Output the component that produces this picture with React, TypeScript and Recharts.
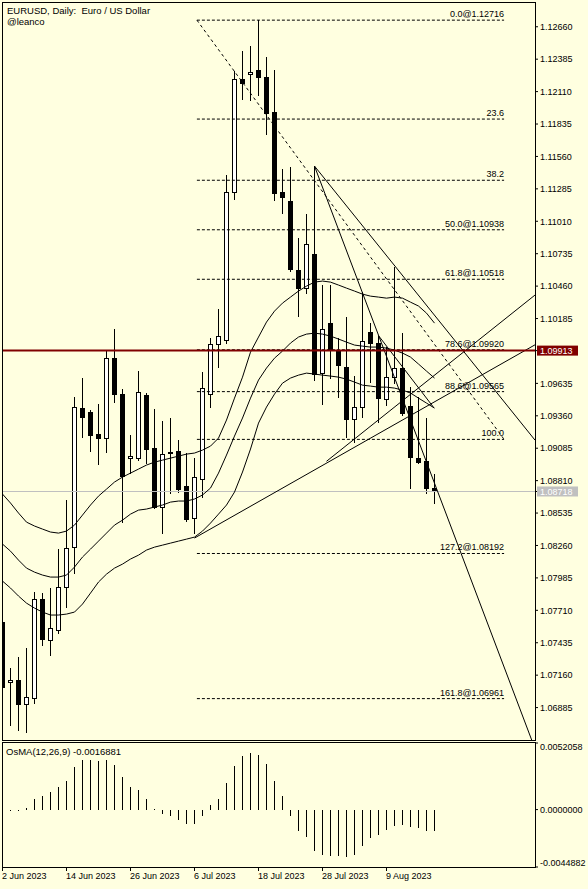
import React from "react";
import { ComposedChart, Bar, Line, XAxis, YAxis, ReferenceLine } from "recharts";

const FONT = "'Liberation Sans', Arial, sans-serif";
const BG = "#FFFFE0";

// daily candles, 2 Jun 2023 .. 17 Aug 2023
const opens = [
  1.0761, 1.07105, 1.07118, 1.06915, 1.06966, 1.07805, 1.07458, 1.07542, 1.07907, 1.08246,
  1.09425, 1.09391, 1.09205, 1.09171, 1.09849, 1.09544, 1.09001, 1.09001, 1.09536, 1.09086,
  1.08586, 1.09045, 1.09061, 1.08764, 1.08492, 1.08823, 1.09544, 1.09968, 1.10002, 1.11257,
  1.12216, 1.12258, 1.12292, 1.12233, 1.11936, 1.11257, 1.11181, 1.10596, 1.10443, 1.10732,
  1.09722, 1.10146, 1.09918, 1.09773, 1.09332, 1.09434, 1.1007, 1.09977, 1.09502, 1.09688,
  1.09765, 1.09442, 1.09001, 1.08976, 1.08747,
];
const highs = [
  1.0767, 1.0722, 1.07313, 1.0739, 1.07865, 1.07856, 1.07899, 1.08229, 1.08645, 1.09519,
  1.0968, 1.09408, 1.09459, 1.09909, 1.10095, 1.09587, 1.09196, 1.09739, 1.09553, 1.09417,
  1.09315, 1.0934, 1.09154, 1.09044, 1.09001, 1.09731, 1.10019, 1.10265, 1.11402, 1.12284,
  1.12453, 1.12496, 1.12716, 1.12403, 1.12292, 1.11453, 1.1147, 1.10867, 1.11071, 1.11478,
  1.10469, 1.10469, 1.10019, 1.10197, 1.097, 1.10412, 1.10146, 1.10036, 1.09943, 1.10621,
  1.10062, 1.09604, 1.09519, 1.09341, 1.08866,
];
const lows = [
  1.06949, 1.06737, 1.06694, 1.06677, 1.06923, 1.07415, 1.0733, 1.07517, 1.07737, 1.08026,
  1.09179, 1.09061, 1.0895, 1.09052, 1.09476, 1.08458, 1.08874, 1.08984, 1.08959, 1.08577,
  1.08365, 1.08704, 1.08713, 1.0847, 1.08365, 1.0867, 1.09434, 1.09773, 1.09977, 1.11198,
  1.12046, 1.12038, 1.1208, 1.11749, 1.1119, 1.11079, 1.1059, 1.10206, 1.10401, 1.09663,
  1.09459, 1.0968, 1.09519, 1.09179, 1.09137, 1.09349, 1.09646, 1.09307, 1.09451, 1.09637,
  1.0937, 1.08747, 1.0896, 1.08704, 1.0862,
];
const closes = [
  1.07059, 1.07115, 1.06915, 1.06974, 1.07805, 1.07466, 1.07559, 1.07907, 1.08238, 1.09434,
  1.09349, 1.09196, 1.09171, 1.09849, 1.09544, 1.08849, 1.09018, 1.09561, 1.09078, 1.08586,
  1.09035, 1.09056, 1.08738, 1.08484, 1.0884, 1.09595, 1.09968, 1.10036, 1.11257, 1.12216,
  1.12182, 1.12275, 1.12233, 1.11928, 1.11249, 1.11215, 1.10604, 1.10443, 1.10816, 1.09714,
  1.10095, 1.09926, 1.0979, 1.09332, 1.09434, 1.09994, 1.09977, 1.0951, 1.09688, 1.09765,
  1.09383, 1.0901, 1.08967, 1.08747, 1.08718,
];

// bollinger bands as drawn
const bbUpper = [
  1.08696, 1.0862, 1.08535, 1.08458, 1.08425, 1.08399, 1.08374, 1.08365, 1.08382, 1.08433,
  1.08518, 1.08603, 1.08679, 1.08738, 1.08798, 1.0884, 1.08874, 1.08908, 1.08942, 1.08967,
  1.08984, 1.09001, 1.09018, 1.09035, 1.09044, 1.09069, 1.09103, 1.09171, 1.09324, 1.0951,
  1.09688, 1.099, 1.10028, 1.10155, 1.10248, 1.10316, 1.10367, 1.10418, 1.1046, 1.10494,
  1.10503, 1.10494, 1.10469, 1.10443, 1.10418, 1.10392, 1.10375, 1.10367, 1.10358, 1.10367,
  1.10358, 1.10324, 1.10291, 1.10231, 1.10146,
];
const bbMiddle = [
  1.08272, 1.08212, 1.08136, 1.08068, 1.08034, 1.08009, 1.07992, 1.07992, 1.08009, 1.08077,
  1.08162, 1.08229, 1.08297, 1.08365, 1.08433, 1.08475, 1.08526, 1.0856, 1.08569, 1.08586,
  1.08603, 1.08628, 1.08637, 1.08637, 1.08654, 1.08688, 1.08747, 1.08874, 1.09027, 1.09188,
  1.09341, 1.0951, 1.09663, 1.09765, 1.09849, 1.09909, 1.09977, 1.10028, 1.10053, 1.10061,
  1.10053, 1.10036, 1.10011, 1.09985, 1.0996, 1.09951, 1.09943, 1.09943, 1.09934, 1.09917,
  1.09892, 1.09858, 1.09799, 1.09739, 1.0968,
];
const bbLower = [
  1.07958, 1.07899, 1.07831, 1.07771, 1.07729, 1.07695, 1.0767, 1.0767, 1.07678, 1.07695,
  1.07763, 1.07856, 1.0795, 1.08017, 1.08068, 1.08102, 1.08145, 1.08178, 1.08221, 1.08246,
  1.08263, 1.0828, 1.08297, 1.08314, 1.08331, 1.08382, 1.0845, 1.08526, 1.08603, 1.08713,
  1.08883, 1.09078, 1.09298, 1.09434, 1.09544, 1.09637, 1.0968, 1.09705, 1.09722, 1.09714,
  1.09705, 1.09697, 1.09688, 1.09671, 1.09646, 1.0962, 1.09612, 1.09603, 1.09603, 1.09595,
  1.09578, 1.09553, 1.0951, 1.09468, 1.09425,
];

const osma = [
  0, -0.00006, -0.00004, 0.00012, 0.00086, 0.00109, 0.00136, 0.00175, 0.00222, 0.00331,
  0.00391, 0.00391, 0.00378, 0.00391, 0.00352, 0.00253, 0.00175, 0.00151, 0.00086, 0.00002,
  -0.00031, -0.00047, -0.00078, -0.00109, -0.00109, -0.00047, 0.00034, 0.00086, 0.00208, 0.00344,
  0.00417, 0.00443, 0.0043, 0.00357, 0.00227, 0.00104, -0.00052, -0.00166, -0.00216, -0.00321,
  -0.00354, -0.0036, -0.0036, -0.00367, -0.00354, -0.00281, -0.00219, -0.00195, -0.00156, -0.00125,
  -0.0012, -0.00138, -0.00146, -0.00164, -0.0016881,
];

const dateTickIdx = [0, 8, 16, 24, 32, 40, 48];
const dateTickLabels = ["2 Jun 2023", "14 Jun 2023", "26 Jun 2023", "6 Jul 2023", "18 Jul 2023", "28 Jul 2023", "9 Aug 2023"];

const priceTicks = [
  1.06885, 1.0716, 1.07435, 1.0771, 1.07985, 1.0826, 1.08535, 1.0881, 1.09085, 1.0936,
  1.09635, 1.10185, 1.1046, 1.10735, 1.1101, 1.11285, 1.1156, 1.11835, 1.1211, 1.12385, 1.1266,
];
const resistance = 1.09913;
const lastPrice = 1.08718;

const fibPrices = [1.12716, 1.11877, 1.11358, 1.10938, 1.10518, 1.0992, 1.09565, 1.0916, 1.08192, 1.06961];
const fibLabels = ["0.0@1.12716", "23.6", "38.2", "50.0@1.10938", "61.8@1.10518", "78.6@1.09920", "88.6@1.09565", "100.0", "127.2@1.08192", "161.8@1.06961"];
const fibFrom = 24.3;
const fibTo = 62.7;

// hand drawn lines: [bar index, price] -> [bar index, price]
const trendStart = [
  [24.3, 1.12716], [39, 1.11478], [39, 1.11478], [24, 1.08323], [40.5, 1.08974], [47, 1.1004],
];
const trendEnd = [
  [62.7, 1.0916], [66.15, 1.0661], [66.56, 1.09154], [66.56, 1.09962], [66.56, 1.10384], [53.9, 1.0943],
];

const osmaTicks = [0.0052058, 0, -0.0044882];

const rows = opens.map((o, i) => ({
  i,
  open: o,
  high: highs[i],
  low: lows[i],
  close: closes[i],
  range: [lows[i], highs[i]],
  bbU: bbUpper[i],
  bbM: bbMiddle[i],
  bbL: bbLower[i],
  osma: osma[i],
}));

const X_DOMAIN: [number, number] = [-0.0625, 66.5625];

function Candle(props: any) {
  const { x, y, width, height, payload } = props;
  if (x == null || y == null || !payload) return null;
  const cx = Math.floor(x + width / 2) + 0.5;
  const { open, close, high, low } = payload;
  const k = high > low ? height / (high - low) : 0;
  const yO = y + (high - open) * k;
  const yC = y + (high - close) * k;
  const top = Math.round(Math.min(yO, yC)) + 0.5;
  const bot = Math.round(Math.max(yO, yC)) + 0.5;
  const bull = close >= open;
  return (
    <g>
      <line x1={cx} x2={cx} y1={Math.round(y)} y2={Math.round(y + height) + 1} stroke="#000" strokeWidth={1} />
      <rect x={cx - 2} y={top} width={4} height={Math.max(bot - top, 1)} fill={bull ? "#fff" : "#000"} stroke="#000" strokeWidth={1} />
    </g>
  );
}

function OsmaBar(props: any) {
  const { x, y, width, height } = props;
  if (x == null || y == null) return null;
  const cx = Math.floor(x + width / 2) + 0.5;
  const y1 = Math.round(y);
  const y2 = Math.round(y + height);
  if (y1 === y2) return <line x1={cx} x2={cx} y1={y1} y2={y1 + 1} stroke="#000" />;
  return <line x1={cx} x2={cx} y1={y1} y2={y2} stroke="#000" strokeWidth={1} />;
}

function PriceTick(props: any) {
  const { x, y, payload } = props;
  const v = payload.value;
  if (v === resistance || v === lastPrice) {
    const bg = v === resistance ? "#800000" : "#C0C0C0";
    return (
      <g>
        <rect x={x - 3} y={y - 5} width={41} height={10} fill={bg} />
        <text x={x} y={y} dy="0.36em" fill="#fff" fontSize={9} fontFamily={FONT}>
          {v.toFixed(5)}
        </text>
      </g>
    );
  }
  return (
    <text x={x} y={y} dy="0.36em" fill="#000" fontSize={9} fontFamily={FONT} textAnchor="start">
      {v.toFixed(5)}
    </text>
  );
}

function OsmaTick(props: any) {
  const { x, y, payload } = props;
  const v = payload.value;
  const dy = v > 0 ? 7 : v < 0 ? -1 : 3.2;
  return (
    <text x={x} y={y + dy} fill="#000" fontSize={9} fontFamily={FONT} textAnchor="start">
      {v.toFixed(7)}
    </text>
  );
}

function DateTick(props: any) {
  const { x, y, payload } = props;
  const idx = dateTickIdx.indexOf(payload.value);
  return (
    <text x={x - 0.5} y={y + 6} fill="#000" fontSize={9} fontFamily={FONT} textAnchor="start">
      {dateTickLabels[idx] ?? ""}
    </text>
  );
}

const fibLabel = (text: string) => (props: any) => {
  const vb = props.viewBox || {};
  const x = (vb.x ?? 0) + (vb.width ?? 0);
  const y = vb.y ?? 0;
  return (
    <text x={x} y={y - 3} textAnchor="end" fontSize={9} fontFamily={FONT} fill="#000">
      {text}
    </text>
  );
};

export default function App() {
  return (
    <div style={{ position: "relative", width: 588, height: 889, background: BG, overflow: "hidden" }}>
      <style>{"body{margin:0}"}</style>

      <div style={{ position: "absolute", left: 0, top: 0 }}>
        <ComposedChart width={588} height={741} data={rows} margin={{ top: 2, right: 0, bottom: 1, left: 2 }}>
          <XAxis type="number" dataKey="i" domain={X_DOMAIN} hide allowDataOverflow />
          <YAxis
            orientation="right"
            width={53}
            domain={[1.0661, 1.1287]}
            ticks={[...priceTicks, resistance, lastPrice]}
            interval={0}
            allowDataOverflow
            axisLine={false}
            tickSize={3}
            tickLine={{ stroke: "#000" }}
            tick={<PriceTick />}
          />
          <ReferenceLine y={lastPrice} stroke="#C0C0C0" strokeWidth={1} />
          {fibPrices.map((p, idx) => (
            <ReferenceLine
              key={"fib" + idx}
              segment={[{ x: fibFrom, y: p }, { x: fibTo, y: p }]}
              stroke="#000"
              strokeDasharray="3 2"
              strokeWidth={1}
              ifOverflow="hidden"
              label={fibLabel(fibLabels[idx])}
            />
          ))}
          {trendStart.map((s, idx) => (
            <ReferenceLine
              key={"tl" + idx}
              segment={[{ x: s[0], y: s[1] }, { x: trendEnd[idx][0], y: trendEnd[idx][1] }]}
              stroke="#000"
              strokeWidth={1}
              strokeDasharray={idx === 0 ? "3 3" : undefined}
              ifOverflow="hidden"
            />
          ))}
          <Line type="linear" dataKey="bbU" stroke="#000" strokeWidth={1} dot={false} activeDot={false} isAnimationActive={false} />
          <Line type="linear" dataKey="bbM" stroke="#000" strokeWidth={1} dot={false} activeDot={false} isAnimationActive={false} />
          <Line type="linear" dataKey="bbL" stroke="#000" strokeWidth={1} dot={false} activeDot={false} isAnimationActive={false} />
          <Bar dataKey="range" barSize={5} isAnimationActive={false} shape={(p: any) => <Candle {...p} />} />
          <ReferenceLine y={resistance} stroke="#800000" strokeWidth={2} />
        </ComposedChart>
      </div>

      <div style={{ position: "absolute", left: 0, top: 741 }}>
        <ComposedChart width={588} height={148} data={rows} margin={{ top: 2, right: 0, bottom: 0, left: 2 }}>
          <XAxis
            type="number"
            dataKey="i"
            domain={X_DOMAIN}
            ticks={dateTickIdx}
            interval={0}
            allowDataOverflow
            axisLine={false}
            tickSize={4}
            tickLine={{ stroke: "#000" }}
            height={22}
            tick={<DateTick />}
          />
          <YAxis
            orientation="right"
            width={53}
            domain={[-0.0044882, 0.0052058]}
            ticks={osmaTicks}
            interval={0}
            allowDataOverflow
            axisLine={false}
            tickSize={3}
            tickLine={{ stroke: "#000" }}
            tick={<OsmaTick />}
          />
          <Bar dataKey="osma" fill="#000" barSize={1} isAnimationActive={false} shape={(p: any) => <OsmaBar {...p} />} />
        </ComposedChart>
      </div>

      <div style={{ position: "absolute", left: 2, top: 2, width: 534, height: 739, border: "1px solid #000", boxSizing: "border-box", pointerEvents: "none" }} />
      <div style={{ position: "absolute", left: 2, top: 742, width: 534, height: 126, border: "1px solid #000", boxSizing: "border-box", pointerEvents: "none" }} />

      <div style={{ position: "absolute", left: 7, top: 5, fontFamily: FONT, fontSize: 9.5, lineHeight: "11px", color: "#000", whiteSpace: "pre" }}>
        {"EURUSD, Daily:  Euro / US Dollar\n@leanco"}
      </div>
      <div style={{ position: "absolute", left: 6, top: 746, fontFamily: FONT, fontSize: 9.5, lineHeight: "11px", color: "#000", whiteSpace: "pre" }}>
        {"OsMA(12,26,9) -0.0016881"}
      </div>
    </div>
  );
}
